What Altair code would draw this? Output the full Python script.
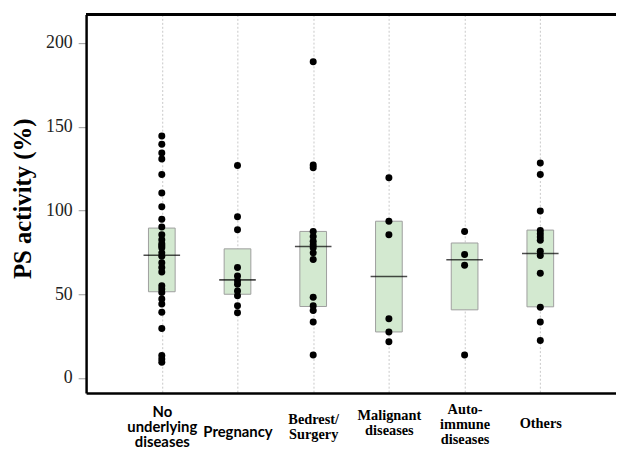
import altair as alt
import pandas as pd

categories = ["No underlying diseases", "Pregnancy", "Bedrest/ Surgery",
              "Malignant diseases", "Auto- immune diseases", "Others"]

no_underlying = [144.5, 139.6, 134.3, 130.8, 121.5, 110.5, 102.2, 94.8, 90.1, 85.5,
                 82.6, 80.2, 79.0, 77.7, 74.7, 72.7, 68.8, 65.9, 63.3, 55.1,
                 53.1, 51.1, 47.2, 44.2, 39.3, 29.5, 13.4, 11.4, 9.4]
pregnancy = [126.8, 96.3, 88.5, 65.9, 60.9, 58.0, 56.0, 52.0, 49.1, 43.2, 38.9]
bedrest = [188.8, 127.2, 125.5, 87.5, 84.5, 81.6, 79.6, 77.7, 74.7, 70.8,
           48.2, 43.2, 40.3, 33.4, 13.7]
malignant = [119.6, 93.6, 85.5, 35.4, 27.5, 21.7]
autoimmune = [87.5, 73.7, 67.3, 13.7]
others = [128.4, 121.5, 99.7, 88.1, 86.1, 84.2, 82.2, 75.7, 73.2, 62.5, 42.3, 33.4, 22.4]

q1 = [51.5, 50.0, 42.7, 27.5, 40.7, 42.5]
median = [73.3, 58.6, 78.5, 60.6, 70.6, 74.3]
q3 = [89.5, 77.1, 87.5, 93.6, 80.6, 88.3]

y_ticks = [0, 50, 100, 150, 200]

groups = [no_underlying, pregnancy, bedrest, malignant, autoimmune, others]
pts = pd.DataFrame(
    [{"group": c, "value": v} for c, vals in zip(categories, groups) for v in vals]
)
boxes = pd.DataFrame({"group": categories, "q1": q1, "median": median, "q3": q3})

W, H = 536, 383

sans_test = "datum.value == 'No underlying diseases' || datum.value == 'Pregnancy'"
label_pad = {"No underlying diseases": 19, "Pregnancy": 39, "Bedrest/ Surgery": 27,
             "Malignant diseases": 23, "Auto- immune diseases": 17}

x_enc = alt.X(
    "group:N", sort=categories,
    scale=alt.Scale(type="point", padding=1),
    axis=alt.Axis(
        title=None,
        labelExpr="split(datum.label, ' ')",
        labelAngle=0,
        labelBaseline="middle",
        labelFont={"condition": {"test": sans_test, "value": "Lato"}, "value": "Liberation Serif"},
        labelFontSize={"condition": {"test": sans_test, "value": 15}, "value": 14.5},
        labelPadding={"condition": [{"test": f"datum.value == '{k}'", "value": v}
                                    for k, v in label_pad.items()], "value": 31},
        labelFontWeight="bold",
        labelColor="black",
        labelLineHeight=15,
        labelOverlap=False,
        labelLimit=0,
        ticks=False,
        domainColor="black",
        domainWidth=2.5,
        grid=True,
        gridDash=[2, 2],
        gridColor="#c8c8c8",
        gridWidth=1,
    ),
)

y_scale = alt.Scale(domain=[-9, 217], nice=False, zero=False)
y_axis = alt.Axis(
    values=y_ticks,
    labelFont="Liberation Serif",
    labelFontSize=18,
    labelColor="#222222",
    labelPadding=6,
    tickColor="#9a9a9a",
    tickSize=8,
    domainColor="black",
    domainWidth=2.5,
    grid=False,
    title="PS activity (%)",
    titleFont="Liberation Serif",
    titleFontSize=25,
    titleFontWeight="bold",
    titleColor="black",
    titleY=186,
    titlePadding=10,
)

box = alt.Chart(boxes).mark_bar(
    width=27, fill="#d3e9d0", stroke="#9e9e9e", strokeWidth=1
).encode(
    x=x_enc,
    y=alt.Y("q1:Q", scale=y_scale, axis=y_axis),
    y2="q3:Q",
)

med = alt.Chart(boxes).mark_tick(size=37, thickness=1.6, color="black").encode(
    x=x_enc,
    y=alt.Y("median:Q", scale=y_scale),
)

dots = alt.Chart(pts).mark_circle(size=50, color="black", opacity=1).encode(
    x=x_enc,
    y=alt.Y("value:Q", scale=y_scale),
)

top = alt.Chart(boxes).mark_rule(color="black", strokeWidth=2.5).encode(
    x=alt.value(0), x2=alt.value(W), y=alt.value(0)
)

chart = alt.layer(box, med, dots, top).properties(
    width=W, height=H,
    autosize=alt.AutoSizeParams(type="none"),
    padding={"left": 79, "top": 4, "right": 0, "bottom": 54},
).configure_view(stroke=None).configure(background="white")

chart.save("out.html", embed_options={"renderer": "svg", "actions": False})
